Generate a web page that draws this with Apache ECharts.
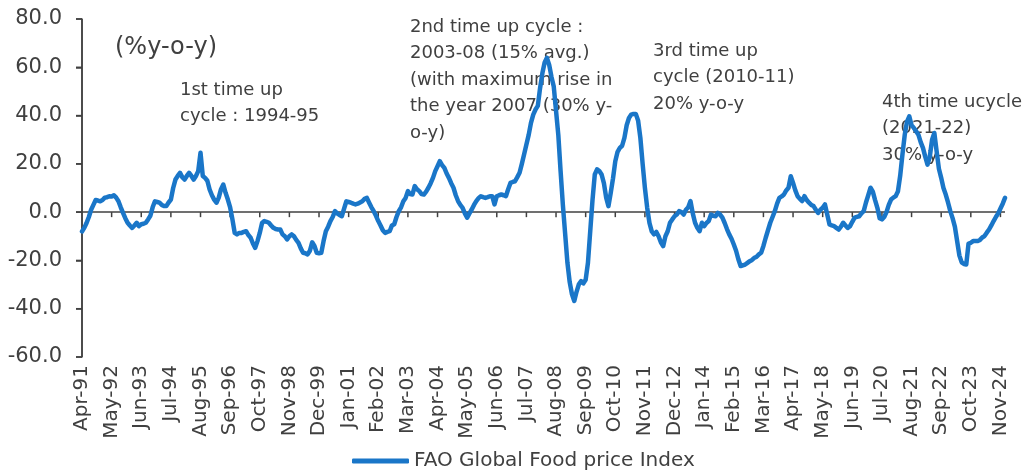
<!DOCTYPE html>
<html>
<head>
<meta charset="utf-8">
<script src="https://cdn.jsdelivr.net/npm/echarts@6/dist/echarts.min.js"></script>
<style>
  html, body { margin: 0; padding: 0; background: #ffffff; }
  #chart { width: 1022px; height: 474px; }
</style>
</head>
<body>
<div id="chart"></div>
<script>
// FAO Global Food Price Index, % change year-on-year, monthly from Apr-1991
const startYear = 1991;
const startMonth = 3; // April (0-based)
const monthNames = ['Jan', 'Feb', 'Mar', 'Apr', 'May', 'Jun', 'Jul', 'Aug', 'Sep', 'Oct', 'Nov', 'Dec'];

// Apr-91 .. Dec-99
const yoy1990s = [
  -8, -6.5, -4.5, -2, 1, 3, 5, 4.8, 4.5,
  5, 6, 6.2, 6.6, 6.5, 7, 6, 4.5, 2, -0.3, -2.5, -4.4,
  -5.5, -6.5, -5.5, -4.4, -5.8, -5, -4.8, -4.4, -3, -1.5, 2, 4.5,
  4.2, 3.9, 3, 2.5, 2.5, 4, 5.2, 10, 13.5, 15, 16.3, 14.5,
  13.5, 15, 16.3, 15, 13.5, 15, 17, 24.6, 15, 14.2, 13, 9.4,
  7, 5.2, 3.9, 6, 9.5, 11.4, 8, 5.2, 2, -3, -8.6, -9.2,
  -8.6, -8.6, -8.2, -7.9, -9.5, -10.6, -13, -14.8, -12, -8.6, -4.5, -3.7,
  -4, -4.4, -5.5, -6.5, -7, -7.2, -7.2, -9.2, -10, -11.3, -10, -9.2,
  -10, -11.5, -12.7, -15, -16.8, -17, -17.5, -16, -12.5, -14, -16.8, -17
];

// Jan-00 .. Dec-09
const yoy2000s = [
  -16.8, -12, -7.9, -6, -3.7, -2, 0.4, -0.5, -1.2, -1.7, 1.5, 4.5,
  4.2, 3.9, 3.5, 3.2, 3.5, 4, 4.5, 5.5, 5.9, 3.9, 2, 0.4,
  -1.5, -3.7, -5.5, -7.5, -8.6, -8.2, -7.9, -5.5, -5, -2, 0.4, 2,
  4.5, 5.9, 8.7, 7.5, 7.3, 10.8, 9.5, 8.7, 7.5, 7.3, 8.5, 10.1,
  12, 14.2, 17, 19, 21.1, 19.5, 18.3, 16, 14.2, 12, 10.1, 7,
  4.6, 3, 1.8, -0.5, -2.3, -0.5, 1.1, 3, 4.6, 5.8, 6.6, 6.2,
  5.9, 6.2, 6.6, 6.6, 3.2, 6.6, 7, 7.3, 7, 6.6, 9.5, 12.1,
  12.5, 12.8, 14.5, 16.3, 20, 24, 28, 32, 37, 40.4, 42.5, 44,
  51.4, 57.5, 62, 63.9, 61, 56, 52, 42, 32, 17, 3, -9,
  -21, -29, -34, -36.8, -33, -29.9, -28.6, -29.5, -28, -21, -8, 5
];

// Jan-10 .. Dec-19
const yoy2010s = [
  15.6, 17.7, 17, 15.6, 12, 6, 2.5, 8, 14, 21.1, 25, 26.6,
  27.5, 30.8, 36, 39, 40.4, 40.7, 40.7, 38, 30.8, 20, 10, 1.8,
  -4.5, -8, -9.2, -8.2, -10, -12.5, -14.1, -10, -7.9, -4.4, -3, -1.7,
  -1, 0.4, 0, -1, 1, 2, 4.6, -0.5, -4.4, -6.5, -7.9, -4.4,
  -5.8, -4.5, -3.7, -1, -1.5, -1.7, -0.3, -1, -2.3, -4.5, -7, -9.2,
  -11, -13.4, -16, -19.5, -22.3, -22, -21.7, -21, -20.3, -19.8, -18.9, -18.5,
  -17.5, -16.8, -14, -10.6, -7.5, -4.4, -2, 0.4, 3.5, 5.9, 6.5, 7.3,
  9, 10.1, 14.9, 12.1, 9, 6.6, 5.5, 4.6, 6.6, 5, 3.9, 3,
  2.5, 1, -0.3, 1, 1.8, 3.2, -1, -5.1, -5.5, -5.8, -6.5, -7.2,
  -6, -4.4, -5.5, -6.5, -5.8, -4, -2.3, -2, -1.7, -0.5, 0.4, 4
];

// Jan-20 .. Jan-25
const yoy2020s = [
  7, 10.1, 8.5, 5, 1.8, -2.5, -3, -2, 0, 3, 5.2, 6,
  6.6, 8.5, 15, 23.9, 32, 37.5, 39.7, 36, 34.9, 33.5, 32.1, 29,
  26.6, 23, 19.7, 23, 30, 32.8, 25.2, 18, 14.2, 10, 7.3, 4,
  0.4, -2.5, -6, -12, -18, -20.8, -21.5, -21.7, -13, -12.7, -12, -12,
  -12, -11.5, -10.5, -9.9, -8.5, -7.2, -5.5, -3.7, -2, -0.5, 1.5, 3.5,
  5.9
];

const yoyValues = [].concat(yoy1990s, yoy2000s, yoy2010s, yoy2020s);

// Month labels such as "Apr-91"
const monthLabels = yoyValues.map(function (_, i) {
  const m = (startMonth + i) % 12;
  const y = startYear + Math.floor((startMonth + i) / 12);
  return monthNames[m] + '-' + String(y % 100).padStart(2, '0');
});

const yTicks = { min: -60, max: 80, step: 20 };
const labelEvery = 13; // one labelled month every 13 months
const seriesName = 'FAO Global Food price Index';

const unitNote = '(%y-o-y)';
const cycleNotes = [
  { text: '1st time up\ncycle : 1994-95', left: 180, top: 77 },
  { text: '2nd time up cycle :\n2003-08 (15% avg.)\n(with maximum rise in\nthe year 2007 (30% y-\no-y)', left: 410, top: 14 },
  { text: '3rd time up\ncycle (2010-11)\n20% y-o-y', left: 653, top: 38 },
  { text: '4th time ucycle\n(2021-22)\n30% y-o-y', left: 882, top: 89 }
];

const FONT = 'DejaVu Sans';
const INK = '#404040';
const BLUE = '#1a76c8';

const noteGraphics = [{
  type: 'text', left: 115, top: 36, z: 0,
  style: { text: unitNote, font: '24px "' + FONT + '"', fill: INK }
}].concat(cycleNotes.map(function (n) {
  return {
    type: 'text', left: n.left, top: n.top, z: 0,
    style: { text: n.text, font: '18px "' + FONT + '"', fill: INK, lineHeight: 26.5 }
  };
}));

// Axis frame drawn as markers in data space: the left value axis,
// the 0 % baseline, and the tick marks on both.
const firstMonth = monthLabels[0];
const lastMonth = monthLabels[monthLabels.length - 1];
const frameLines = [
  [{ coord: [firstMonth, 0] }, { coord: [lastMonth, 0] }],
  [{ coord: [firstMonth, yTicks.min] }, { coord: [firstMonth, yTicks.max] }]
];
const frameTicks = [];
for (let v = yTicks.min; v <= yTicks.max; v += yTicks.step) {
  frameTicks.push({ coord: [firstMonth, v], symbol: 'rect', symbolSize: [6, 1.5], symbolOffset: [-3, 0] });
}
for (let k = labelEvery; k < monthLabels.length; k += labelEvery) {
  frameTicks.push({ coord: [monthLabels[k], 0], symbol: 'rect', symbolSize: [1.5, 5], symbolOffset: [0, 2.5] });
}

const chart = echarts.init(document.getElementById('chart'), null, { renderer: 'canvas' });

chart.setOption({
  animation: false,
  backgroundColor: '#ffffff',
  textStyle: { fontFamily: FONT },
  grid: { left: 82, right: 17, top: 19, bottom: 117 },
  legend: {
    data: [seriesName],
    left: 352, top: 451,
    padding: 0,
    icon: 'roundRect',
    itemWidth: 57, itemHeight: 5,
    textStyle: { fontFamily: FONT, fontSize: 20, color: INK }
  },
  xAxis: {
    type: 'category',
    data: monthLabels,
    boundaryGap: false,
    axisLine: { show: false, onZero: false },
    axisTick: { show: false },
    axisLabel: {
      interval: labelEvery - 1, rotate: 90, margin: 8,
      fontFamily: FONT, fontSize: 20, color: INK
    },
    splitLine: { show: false }
  },
  yAxis: {
    type: 'value',
    min: yTicks.min, max: yTicks.max, interval: yTicks.step,
    axisLine: { show: true, lineStyle: { color: INK, width: 1.5 } },
    axisTick: { show: true, length: 6, lineStyle: { color: INK, width: 1.5 } },
    axisLabel: {
      margin: 20, fontFamily: FONT, fontSize: 21, color: INK,
      formatter: function (v) { return v.toFixed(1); }
    },
    splitLine: { show: false }
  },
  graphic: noteGraphics,
  series: [
    {
      // carrier for the axis frame, drawn beneath the index line
      name: 'frame',
      type: 'line',
      data: yoyValues.map(function () { return null; }),
      symbol: 'none',
      silent: true,
      clip: false,
      z: 1,
      lineStyle: { width: 0 },
      markLine: {
        silent: true,
        animation: false,
        symbol: ['none', 'none'],
        label: { show: false },
        emphasis: { disabled: true },
        lineStyle: { color: INK, width: 1.5, type: 'solid' },
        data: frameLines
      },
      markPoint: {
        silent: true,
        animation: false,
        label: { show: false },
        itemStyle: { color: INK },
        data: frameTicks
      }
    },
    {
      name: seriesName,
      type: 'line',
      data: yoyValues,
      symbol: 'none',
      z: 5,
      itemStyle: { color: BLUE },
      lineStyle: { color: BLUE, width: 4.5, cap: 'round', join: 'round' }
    }
  ]
});
</script>
</body>
</html>
